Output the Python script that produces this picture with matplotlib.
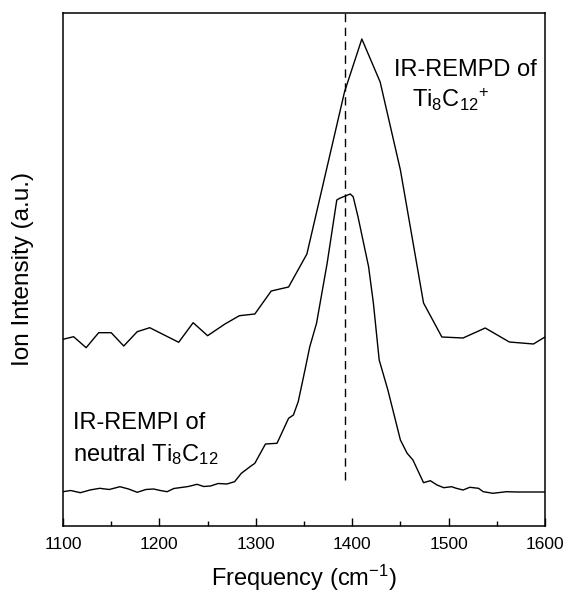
import matplotlib
matplotlib.use("Agg")
import matplotlib.pyplot as plt

plt.rcParams['font.family'] = ['Liberation Sans', 'DejaVu Sans']
plt.rcParams['mathtext.fontset'] = 'custom'
plt.rcParams['mathtext.rm'] = 'Liberation Sans'
plt.rcParams['mathtext.it'] = 'Liberation Sans:italic'

# IR-REMPD of Ti8C12+ (upper trace)
rempd_freq = [1100, 1111, 1124, 1137, 1150, 1163, 1177, 1190, 1220, 1235, 1250, 1268,
              1283, 1299, 1316, 1334, 1353, 1392, 1410, 1429, 1450, 1474, 1493, 1515,
              1538, 1563, 1588, 1600]
rempd_int = [186.7, 189.3, 178.3, 193.3, 193.3, 180, 194.3, 198.3, 183.7, 203.3, 190.3, 202,
             210.3, 212, 235, 239, 272, 434, 487, 444, 356, 223, 189, 188,
             198, 184, 182, 189]

# IR-REMPI of neutral Ti8C12 (lower trace)
rempi_freq = [1100, 1108, 1118, 1128, 1138, 1148, 1159, 1168, 1177, 1186, 1194, 1201, 1208,
              1215, 1221, 1230, 1239, 1246, 1253, 1261, 1270, 1278, 1285, 1294, 1299,
              1310, 1322, 1334, 1339, 1344, 1351, 1356, 1363, 1374, 1384, 1387, 1391,
              1398, 1401, 1406, 1417, 1422, 1428, 1437, 1450, 1457, 1463, 1474, 1481,
              1488, 1495, 1503, 1508, 1515, 1522, 1531, 1536, 1546, 1560, 1571, 1585, 1600]
rempi_int = [34.3, 35.5, 33.3, 36.0, 37.7, 36.5, 39.3, 37.0, 33.7, 36.5, 37, 35.5, 34.3,
             37.5, 38.3, 39.5, 41.7, 39.5, 40, 42.5, 42, 44.3, 52.7, 59.3, 62.7,
             82, 82.7, 107.7, 111, 124.3, 156, 179.3, 202.7, 262.7, 326, 327.7, 329.3,
             332, 329.3, 309.3, 259.3, 222.7, 166, 136, 86, 72.7, 66, 43.3, 45.3,
             41.0, 38.3, 39.3, 37.7, 36, 38.7, 37.7, 34.3, 32.7, 34.3, 34, 34, 34]

marker_freq = 1393
marker_bottom = 46

fig = plt.figure(figsize=(5.65, 5.94), dpi=100)
ax = fig.add_axes([63/565, 68/594, 482/565, 513/594])

ax.plot(rempd_freq, rempd_int, color='black', lw=1.0)
ax.plot(rempi_freq, rempi_int, color='black', lw=1.0)

ymax = 513
ax.set_xlim(1100, 1600)
ax.set_ylim(0, ymax)
ax.axvline(marker_freq, ymin=marker_bottom/ymax, ymax=1, color='black', lw=1.0,
           linestyle=(0, (6, 4)))

ax.set_yticks([])
ax.set_xticks([1100, 1200, 1300, 1400, 1500, 1600])
ax.set_xticks([1150, 1250, 1350, 1450, 1550], minor=True)
ax.tick_params(axis='x', which='major', direction='in', length=6, width=1.0,
               labelsize=12.5, pad=8)
ax.tick_params(axis='x', which='minor', direction='in', length=3.5, width=1.0)
for s in ax.spines.values():
    s.set_linewidth(1.1)

ax.set_xlabel('Frequency (cm$^{\\mathregular{-1}}$)', fontsize=17, labelpad=8)
ax.set_ylabel('Ion Intensity (a.u.)', fontsize=17.5, labelpad=21)

ax.text(1517, 456, 'IR-REMPD of', fontsize=17, ha='center', va='center')
ax.text(1502, 426, 'Ti$\\mathregular{_8}$C$\\mathregular{_{12}}$$\\mathregular{^{+}}$',
        fontsize=17, ha='center', va='center')
ax.text(1110, 103, 'IR-REMPI of', fontsize=17, ha='left', va='center')
ax.text(1110, 71, 'neutral Ti$\\mathregular{_8}$C$\\mathregular{_{12}}$', fontsize=17,
        ha='left', va='center')

fig.savefig('out.png', dpi=100)
